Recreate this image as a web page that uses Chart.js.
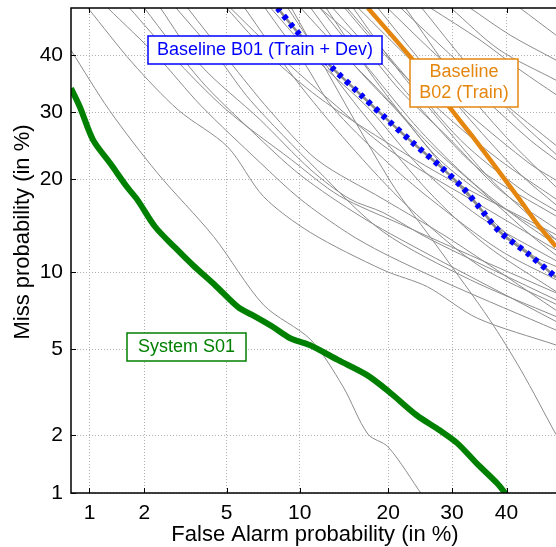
<!DOCTYPE html>
<html>
<head>
<meta charset="utf-8">
<script src="https://cdn.jsdelivr.net/npm/chart.js@4.4.0/dist/chart.umd.min.js"></script>
<style>
    html, body { margin: 0; padding: 0; background: #fff; }
</style>
</head>
<body>
<canvas id="detChart" width="556" height="547"></canvas>
<script>
// Valeurs (en %)
const xTicks = [1, 2, 5, 10, 20, 30, 40];
const yTicks = [1, 2, 5, 10, 20, 30, 40];
const xRange = [0.78, 49.7];
const yRange = [1, 48.8];

// System S01
const s01FA = [0.78, 0.88, 1.05, 1.31, 1.62, 1.84, 2.28, 2.87, 3.5, 4.44, 5.62, 6.45, 7.87, 9.2, 10.9, 13.8, 17.2, 20.2, 24.2, 27.9, 30.9, 34.4, 38.2, 40.1];
const s01Miss = [34.1, 30.9, 25.6, 22.2, 19.0, 17.4, 14.3, 12.2, 10.6, 8.97, 7.4, 6.9, 6.17, 5.55, 5.2, 4.48, 3.85, 3.22, 2.51, 2.12, 1.83, 1.44, 1.13, 0.97];

// Baseline B01 (Train + Dev)
const b01FA = [8.2, 9.8, 13.2, 16.3, 19.8, 23.6, 27.95, 31.9, 34.5, 38.7, 44.0, 49.7];
const b01Miss = [48.8, 44.3, 37.6, 33.1, 28.9, 25.2, 21.8, 18.9, 16.8, 13.8, 11.7, 9.6];

// Baseline B02 (Train)
const b02FA = [17.3, 23.2, 29.7, 33.7, 37.4, 42.6, 45.9, 49.7];
const b02Miss = [48.8, 39.7, 30.7, 26.1, 22.2, 17.4, 14.7, 12.3];

// Autres systèmes (courbes grises)
const otherFA = [
    [0.78, 1.30, 2.33, 4.37, 7.2, 11.0, 14.3, 17.3, 20.0, 25.1],
    [0.98, 1.73, 2.97, 5.05, 7.2, 11.0, 19.3, 25.9, 34.5, 49.7],
    [1.27, 2.33, 3.8, 6.97, 10.05, 14.8, 19.3, 29.8, 49.7],
    [2.42, 3.8, 6.97, 11.0, 15.1, 19.3, 26.4, 49.7],
    [1.67, 2.75, 5.0, 9.3, 13.9, 21.8, 35.0, 49.7],
    [5.0, 7.7, 11.7, 19.3, 29.8, 49.7],
    [5.2, 8.3, 12.9, 20.2, 33.2, 49.7],
    [7.3, 10.4, 13.1, 19.3, 26.4, 38.6, 49.7],
    [7.7, 11.6, 17.6, 24.7, 35.0, 49.7],
    [10.1, 13.9, 19.3, 26.4, 35.0, 44.6, 49.7],
    [11.0, 15.1, 21.8, 27.9, 36.8, 49.7],
    [11.9, 17.6, 24.7, 33.2, 42.8, 49.7],
    [13.2, 19.3, 26.4, 35.0, 49.7],
    [14.8, 21.8, 31.5, 42.8, 49.7],
    [16.1, 23.3, 33.2, 44.6, 49.7],
    [19.9, 26.4, 35.0, 44.6, 49.7],
    [21.8, 29.8, 38.6, 49.7],
    [26.4, 35.0, 42.8, 49.7],
    [33.2, 40.7, 49.7],
    [42.6, 49.7],
    [9.3, 20.2, 27.9, 36.8, 42.8, 49.7],
    [2.0, 3.8, 6.35, 10.05, 16.5, 24.7, 49.7],
    [3.3, 5.1, 7.6, 11.6, 19.3, 29.8, 49.7],
    [2.9, 4.5, 6.35, 11.6, 19.3, 33.2, 49.7],
    [11.9, 16.5, 21.8, 29.8, 38.6, 49.7],
    [14.5, 20.2, 27.9, 38.6, 49.7],
    [18.6, 24.7, 33.2, 42.8, 49.7],
    [29.8, 38.6, 49.7],
    [15.5, 21.0, 28.5, 37.0, 49.7],
    [12.5, 18.0, 25.5, 34.0, 45.0, 49.7],
    [9.0, 13.0, 18.5, 26.0, 36.0, 49.7],
    [22.5, 30.5, 40.0, 49.7],
    [25.0, 33.0, 42.0, 49.7],
    [6.0, 9.5, 15.0, 23.0, 35.0, 49.7]
];
const otherMiss = [
    [40.9, 30.3, 20.9, 13.3, 7.55, 5.47, 3.43, 2.03, 1.75, 0.97],
    [48.8, 38.6, 30.4, 24.6, 17.8, 13.7, 10.2, 8.85, 6.7, 5.2],
    [48.8, 39.8, 31.2, 22.3, 17.5, 13.7, 11.7, 9.0, 6.0],
    [48.8, 38.2, 28.8, 21.3, 17.5, 15.9, 13.0, 7.9],
    [48.8, 40.0, 30.4, 22.7, 17.9, 14.6, 11.1, 8.4],
    [48.8, 39.8, 32.6, 25.6, 19.9, 13.5],
    [48.8, 40.0, 32.0, 24.1, 17.5, 12.0],
    [48.8, 38.6, 31.0, 22.9, 17.5, 12.0, 9.4],
    [48.8, 39.1, 30.4, 21.7, 15.4, 11.0],
    [48.8, 41.0, 33.0, 24.8, 18.7, 13.5, 11.5],
    [48.8, 39.1, 29.6, 22.7, 17.5, 13.0],
    [48.8, 37.2, 27.1, 19.9, 15.0, 12.5],
    [48.8, 38.2, 28.8, 21.3, 15.5],
    [48.8, 37.2, 25.6, 18.7, 16.1],
    [48.8, 39.1, 29.6, 22.1, 19.9],
    [48.8, 41.0, 33.0, 25.6, 22.7],
    [48.8, 40.0, 32.2, 24.8],
    [48.8, 42.8, 37.2, 33.0],
    [48.8, 43.7, 39.1],
    [48.8, 43.7],
    [48.8, 19.9, 12.0, 6.6, 4.05, 2.02],
    [48.8, 35.5, 27.2, 20.6, 15.4, 12.0, 6.5],
    [48.8, 39.1, 30.4, 22.7, 17.5, 13.0, 7.2],
    [48.8, 40.0, 32.0, 21.3, 13.8, 9.4, 6.8],
    [48.8, 41.9, 33.6, 25.6, 18.7, 14.1],
    [48.8, 39.1, 30.4, 22.7, 17.5],
    [48.8, 39.1, 28.8, 20.6, 16.8],
    [48.8, 41.0, 35.5],
    [48.8, 38.0, 28.0, 20.0, 13.0],
    [48.8, 36.0, 25.0, 17.0, 11.5, 10.5],
    [48.8, 37.0, 27.0, 18.5, 12.5, 8.5],
    [48.8, 36.0, 26.0, 19.0],
    [48.8, 38.0, 29.0, 23.5],
    [48.8, 36.0, 25.0, 16.5, 10.5, 7.6]
];

const FONT = '"Liberation Sans", Arial, Helvetica, sans-serif';
const GREY = '#8c8c8c';

// Fonction quantile de la loi normale (échelle DET)
function probit(p) {
    const a = [-39.69683028665376, 220.9460984245205, -275.9285104469687, 138.3577518672690, -30.66479806614716, 2.506628277459239];
    const b = [-54.47609879822406, 161.5858368580409, -155.6989798598866, 66.80131188771972, -13.28068155288572];
    const c = [-0.007784894002430293, -0.3223964580411365, -2.400758277161838, -2.549732539343734, 4.374664141464968, 2.938163982698783];
    const d = [0.007784695709041462, 0.3224671290700398, 2.445134137142996, 3.754408661907416];
    const pl = 0.02425;
    if (p < pl) {
        const q = Math.sqrt(-2 * Math.log(p));
        return (((((c[0] * q + c[1]) * q + c[2]) * q + c[3]) * q + c[4]) * q + c[5]) /
            ((((d[0] * q + d[1]) * q + d[2]) * q + d[3]) * q + 1);
    }
    if (p > 1 - pl) {
        return -probit(1 - p);
    }
    const q = p - 0.5, r = q * q;
    return (((((a[0] * r + a[1]) * r + a[2]) * r + a[3]) * r + a[4]) * r + a[5]) * q /
        (((((b[0] * r + b[1]) * r + b[2]) * r + b[3]) * r + b[4]) * r + 1);
}

function toPoints(fa, miss) {
    return fa.map((v, i) => ({ x: probit(v / 100), y: probit(miss[i] / 100) }));
}

// Jeux de données : le premier est dessiné au-dessus
const datasets = [
    { data: toPoints(s01FA, s01Miss), borderColor: '#008000', borderWidth: 6, tension: 0.3 },
    { data: toPoints(b02FA, b02Miss), borderColor: '#e5860f', borderWidth: 4.5, tension: 0.15 },
    { data: toPoints(b01FA, b01Miss), borderColor: '#0000ff', borderWidth: 6, borderDash: [4.5, 5.5], borderCapStyle: 'butt', tension: 0.3 },
    { data: toPoints(b01FA, b01Miss), borderColor: GREY, borderWidth: 2.5, tension: 0.3 }
];
otherFA.forEach((fa, i) => {
    datasets.push({ data: toPoints(fa, otherMiss[i]), borderColor: GREY, borderWidth: 1, tension: 0.3 });
});

// Cadre, graduations internes, titres et étiquettes
const decorPlugin = {
    id: 'decor',
    afterDatasetsDraw(chart) {
        const ctx = chart.ctx;
        const area = chart.chartArea;
        const xs = chart.scales.x, ys = chart.scales.y;
        ctx.save();

        // étiquettes encadrées
        function box(x1, y1, x2, y2, color, lines) {
            ctx.fillStyle = '#fff';
            ctx.fillRect(x1, y1, x2 - x1, y2 - y1);
            ctx.strokeStyle = color;
            ctx.lineWidth = 1.5;
            ctx.strokeRect(x1, y1, x2 - x1, y2 - y1);
            ctx.fillStyle = color;
            ctx.font = '18px ' + FONT;
            ctx.textAlign = 'center';
            ctx.textBaseline = 'middle';
            const cy = (y1 + y2) / 2;
            lines.forEach((t, i) => {
                ctx.fillText(t, (x1 + x2) / 2, cy + (i - (lines.length - 1) / 2) * 21);
            });
        }
        box(148, 36, 382, 64, '#0000ff', ['Baseline B01 (Train + Dev)']);
        box(410, 59, 518, 107, '#e5860f', ['Baseline', 'B02 (Train)']);
        box(127, 333, 246, 361, '#008000', ['System S01']);

        // cadre
        ctx.strokeStyle = '#000';
        ctx.lineWidth = 1.5;
        ctx.beginPath();
        ctx.moveTo(area.right + 2, area.top);
        ctx.lineTo(area.left, area.top);
        ctx.lineTo(area.left, area.bottom);
        ctx.lineTo(area.right + 2, area.bottom);
        ctx.stroke();

        // graduations vers l'intérieur
        ctx.lineWidth = 1;
        ctx.beginPath();
        xTicks.forEach(v => {
            const px = Math.round(xs.getPixelForValue(probit(v / 100))) + 0.5;
            ctx.moveTo(px, area.bottom);
            ctx.lineTo(px, area.bottom - 5);
            ctx.moveTo(px, area.top);
            ctx.lineTo(px, area.top + 5);
        });
        yTicks.forEach(v => {
            const py = Math.round(ys.getPixelForValue(probit(v / 100))) + 0.5;
            ctx.moveTo(area.left, py);
            ctx.lineTo(area.left + 5, py);
        });
        ctx.stroke();

        // titres des axes
        ctx.fillStyle = '#000';
        ctx.font = '22px ' + FONT;
        ctx.textAlign = 'center';
        ctx.textBaseline = 'middle';
        ctx.fillText('False Alarm probability (in %)', 315, 535);
        ctx.translate(23, 232);
        ctx.rotate(-Math.PI / 2);
        ctx.fillText('Miss probability (in %)', 0, 0);
        ctx.restore();
    }
};

new Chart(document.getElementById('detChart').getContext('2d'), {
    type: 'line',
    data: { datasets: datasets },
    options: {
        responsive: false,
        animation: false,
        layout: { padding: { top: 8, left: 0, right: 0, bottom: 0 } },
        elements: { point: { radius: 0 }, line: { fill: false } },
        plugins: { legend: { display: false }, tooltip: { enabled: false } },
        scales: {
            x: {
                type: 'linear',
                min: probit(xRange[0] / 100),
                max: probit(xRange[1] / 100),
                afterBuildTicks: scale => { scale.ticks = xTicks.map(v => ({ value: probit(v / 100) })); },
                afterFit: scale => {
                    scale.height = 54;
                    scale.paddingLeft = 0;
                    scale.paddingRight = 0;
                },
                ticks: {
                    autoSkip: false,
                    maxRotation: 0,
                    padding: 8,
                    color: '#000',
                    font: { family: FONT, size: 21 },
                    callback: (value, index) => String(xTicks[index])
                },
                grid: { color: '#b0b0b0', lineWidth: 1, drawTicks: false },
                border: { display: false, dash: [1, 2] }
            },
            y: {
                type: 'linear',
                min: probit(yRange[0] / 100),
                max: probit(yRange[1] / 100),
                afterBuildTicks: scale => { scale.ticks = yTicks.map(v => ({ value: probit(v / 100) })); },
                afterFit: scale => {
                    scale.width = 71;
                    scale.paddingTop = 0;
                    scale.paddingBottom = 0;
                },
                ticks: {
                    autoSkip: false,
                    padding: 8,
                    color: '#000',
                    font: { family: FONT, size: 21 },
                    callback: (value, index) => String(yTicks[index])
                },
                grid: { color: '#b0b0b0', lineWidth: 1, drawTicks: false },
                border: { display: false, dash: [1, 2] }
            }
        }
    },
    plugins: [decorPlugin]
});
</script>
</body>
</html>
